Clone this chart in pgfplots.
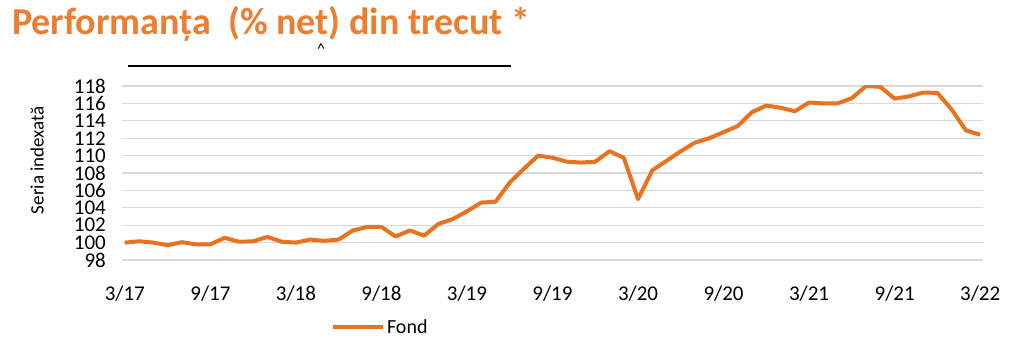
\documentclass[border=0pt]{standalone}
\usepackage{fontspec}
\setmainfont{Carlito}
\usepackage{pgfplots}
\pgfplotsset{compat=1.18}
\definecolor{ttl}{RGB}{237,125,49}
\definecolor{ln}{RGB}{232,114,30}
\begin{document}
\begin{tikzpicture}
\path[use as bounding box] (0pt,0pt) rectangle (1022pt,345pt);
\node[anchor=base west,inner sep=0pt,text=ttl,font=\fontsize{38}{40}\selectfont\bfseries] at (12pt,310pt) {Performanța\ \ (\% net) din trecut *};
\node[inner sep=0pt,font=\fontsize{16}{18}\selectfont] at (321pt,296pt) {\textasciicircum};
\draw[black,line width=1.2pt] (128pt,279pt) -- (511pt,279pt);
\node[rotate=90,font=\fontsize{19}{20}\selectfont,inner sep=0pt] at (37pt,185pt) {Seria indexată};
\begin{axis}[
  at={(122pt,85pt)}, anchor=south west,
  scale only axis, width=861pt, height=174pt,
  xmin=-0.2, xmax=60.2, ymin=98, ymax=118,
  axis line style={draw=none}, tick style={draw=none},
  ytick={98,100,...,118},
  xtick={0,6,...,60},
  xticklabels={3/17,9/17,3/18,9/18,3/19,9/19,3/20,9/20,3/21,9/21,3/22},
  ymajorgrids, major grid style={color=black!15,line width=1.2pt},
  /pgf/number format/assume math mode=true,
  ticklabel style={font=\fontsize{21}{21}\selectfont},
  yticklabel style={xshift=-16pt, anchor=east, inner sep=0pt},
  xticklabel style={yshift=-22pt},
  legend style={at={(0.30,-0.385)}, anchor=center, draw=none, fill=none, font=\fontsize{20}{20}\selectfont, inner sep=0pt},
  legend image code/.code={\draw[#1] (0pt,0pt) -- (50pt,0pt);},
]
\addplot[color=ln, line width=4pt, line join=round] coordinates {
(0,100.0)(1,100.15)(2,100.0)(3,99.7)(4,100.05)(5,99.8)(6,99.8)(7,100.55)(8,100.1)(9,100.15)
(10,100.65)(11,100.1)(12,100.0)(13,100.35)(14,100.2)(15,100.35)(16,101.4)(17,101.8)(18,101.8)(19,100.7)
(20,101.4)(21,100.8)(22,102.15)(23,102.7)(24,103.6)(25,104.6)(26,104.7)(27,106.9)(28,108.5)(29,110.0)
(30,109.75)(31,109.3)(32,109.2)(33,109.3)(34,110.5)(35,109.75)(36,105.0)(37,108.3)(38,109.4)(39,110.5)
(40,111.5)(41,112.0)(42,112.7)(43,113.4)(44,115.0)(45,115.75)(46,115.5)(47,115.1)(48,116.1)(49,116.0)
(50,116.0)(51,116.6)(52,118.0)(53,117.9)(54,116.55)(55,116.8)(56,117.25)(57,117.2)(58,115.3)(59,112.9)
(60,112.4)};
\addlegendentry{Fond}
\end{axis}
\end{tikzpicture}
\end{document}
